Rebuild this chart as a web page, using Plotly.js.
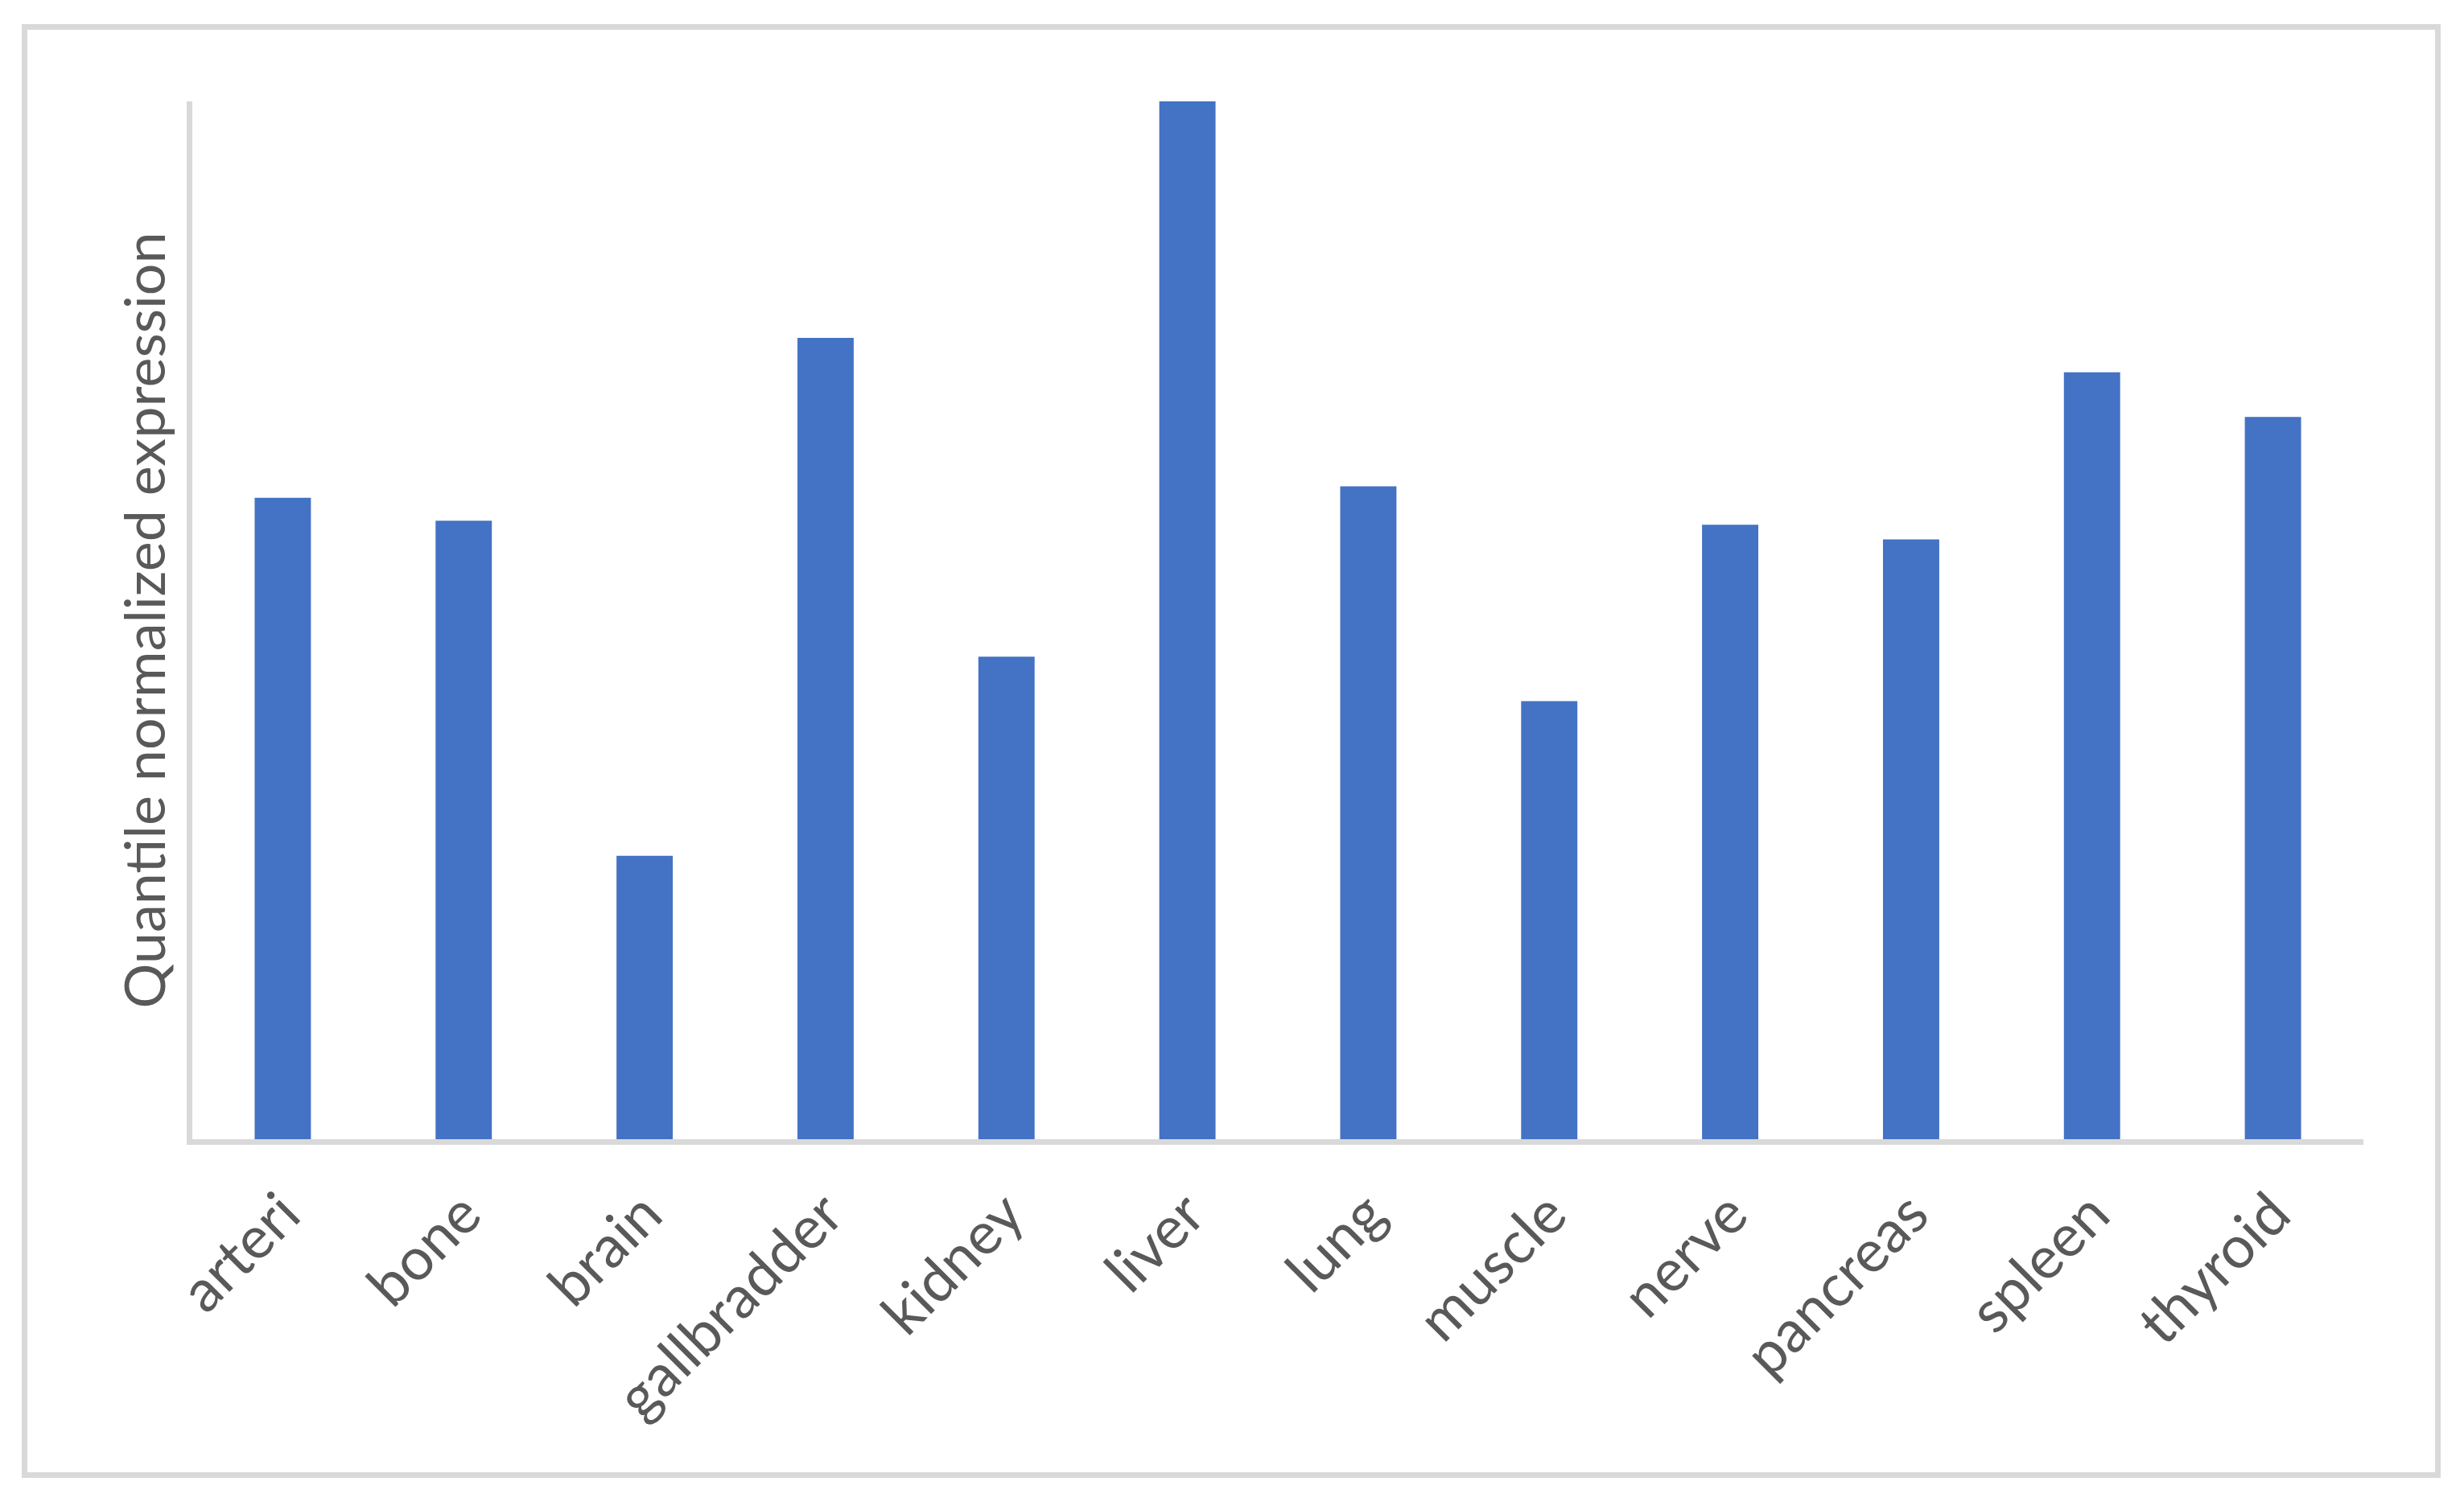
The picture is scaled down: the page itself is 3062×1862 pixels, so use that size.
<!DOCTYPE html>
<html>
<head>
<meta charset="utf-8">
<script src="https://cdn.plot.ly/plotly-3.0.1.min.js"></script>
<style>
  html, body { margin: 0; padding: 0; background: #ffffff; }
  #wrap { position: relative; width: 3062px; height: 1862px; }
  #chart { width: 3062px; height: 1862px; }
  #frame { position: absolute; left: 27px; top: 30px; width: 3006px; height: 1807px;
           box-sizing: border-box; border: 7px solid #d9d9d9; pointer-events: none; }
</style>
</head>
<body>
<div id="wrap">
  <div id="chart"></div>
  <div id="frame"></div>
</div>
<script>
// Tissue categories
const tissues = ["arteri", "bone", "brain", "gallbradder", "kidney", "liver",
                 "lung", "muscle", "nerve", "pancreas", "spleen", "thyroid"];
// Quantile normalized expression (relative; liver = 100)
const expression = [61.8, 59.6, 27.3, 77.2, 46.5, 100, 62.9, 42.2, 59.2, 57.8, 73.9, 69.6];
const yTitle = "Quantile normalized expression";

const trace = {
  type: "bar",
  x: tissues,
  y: expression,
  marker: { color: "#4472C4", line: { width: 0 } },
  hoverinfo: "x+y"
};

const layout = {
  width: 3062,
  height: 1862,
  paper_bgcolor: "#ffffff",
  plot_bgcolor: "#ffffff",
  margin: { l: 239, r: 125, t: 126, b: 446, pad: 0 },
  bargap: 0.689,
  showlegend: false,
  font: { family: "Lato, 'Open Sans', sans-serif", color: "#595959" },
  xaxis: {
    type: "category",
    range: [-0.5, 11.5],
    showline: true,
    linecolor: "#d9d9d9",
    linewidth: 7,
    showgrid: false,
    zeroline: false,
    ticks: "",
    tickangle: -45,
    ticklabelstandoff: 14,
    tickfont: { family: "Lato, sans-serif", size: 73, color: "#595959" },
    automargin: false
  },
  yaxis: {
    range: [0, 100],
    showline: true,
    linecolor: "#d9d9d9",
    linewidth: 7,
    showgrid: false,
    zeroline: false,
    ticks: "",
    showticklabels: false,
    automargin: false,
    title: {
      text: yTitle,
      font: { family: "Lato, sans-serif", size: 70, color: "#595959" },
      standoff: 6
    }
  }
};

Plotly.newPlot("chart", [trace], layout, { displayModeBar: false, staticPlot: true });
</script>
</body>
</html>
